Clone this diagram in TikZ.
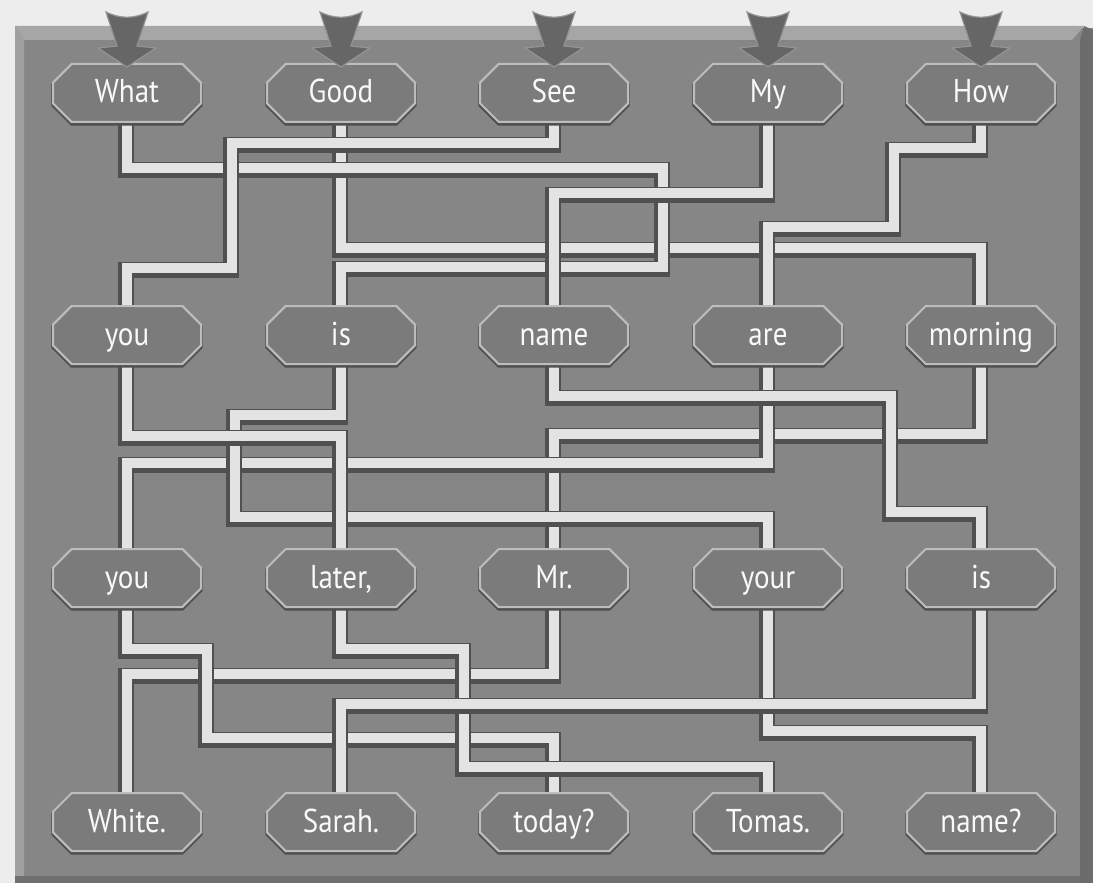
\documentclass[tikz,border=0pt]{standalone}
\usepackage{fontspec}
\setmainfont[FakeStretch=0.88]{PT Sans}
\usepackage{xcolor}
\usepackage{tikz}
\usetikzlibrary{shapes.misc}

\definecolor{paper}{HTML}{EDEDED}
\definecolor{panelgray}{HTML}{868686}
\definecolor{paneltop}{HTML}{A6A6A6}
\definecolor{panelside}{HTML}{6C6C6C}
\definecolor{boxgray}{HTML}{7B7B7B}
\definecolor{edgegray}{HTML}{BDBDBD}
\definecolor{wirelight}{HTML}{E3E3E3}
\definecolor{wiredark}{HTML}{505050}
\definecolor{arrowgray}{HTML}{666666}

\pgfdeclarelayer{board}
\pgfdeclarelayer{wires}
\pgfsetlayers{board,wires,main}

\begin{document}
\begin{tikzpicture}[x=0.5pt, y=-0.5pt,
  every node/.style={font=\fontsize{16.5}{19}\selectfont, text=white!95!gray},
  word/.style={chamfered rectangle, chamfered rectangle xsep=6pt,
    minimum width=74pt, minimum height=29pt, inner sep=0pt,
    text height=11.5pt, text depth=1.5pt,
    fill=boxgray, draw=edgegray, line width=1pt,
    preaction={draw=wiredark, line width=1.6pt, transform canvas={shift={(0pt,-1pt)}}}},
  wire/.style={line width=5pt, draw=wirelight, line join=miter,
    preaction={draw=wiredark, line width=8pt, transform canvas={shift={(-0.6pt,-0.8pt)}}}}]
\useasboundingbox (0,0) rectangle (1093,883);
% Paper and board
\begin{pgfonlayer}{board}
\fill[paper] (0,0) rectangle (1093,883);
\fill[panelgray] (15,28) rectangle (1093,883);
\fill[paneltop] (15,26) -- (1084,26) -- (1072,40) -- (24,40) -- cycle;
\fill[paneltop!80!panelgray] (15,26) -- (24,40) -- (24,876) -- (15,883) -- cycle;
\fill[panelside] (1084,26) -- (1093,30) -- (1093,883) -- (1080,883) -- (1080,40) -- cycle;
\fill[panelside!85!panelgray] (15,876) rectangle (1080,883);
\end{pgfonlayer}

% Words, row by row
\node[word] (what)    at (127,93)  {What};
\node[word] (good)    at (341,93)  {Good};
\node[word] (see)     at (554,93)  {See};
\node[word] (my)      at (768,93)  {My};
\node[word] (how)     at (981,93)  {How};
\node[word] (you1)    at (127,335) {you};
\node[word] (is1)     at (341,335) {is};
\node[word] (name)    at (554,335) {name};
\node[word] (are)     at (768,335) {are};
\node[word] (morning) at (981,335) {morning};
\node[word] (you2)    at (127,578) {you};
\node[word] (later)   at (341,578) {later,};
\node[word] (mr)      at (554,578) {Mr.};
\node[word] (your)    at (768,578) {your};
\node[word] (is2)     at (981,578) {is};
\node[word] (white)   at (127,822) {White.};
\node[word] (sarah)   at (341,822) {Sarah.};
\node[word] (today)   at (554,822) {today?};
\node[word] (tomas)   at (768,822) {Tomas.};
\node[word] (nameq)   at (981,822) {name?};

\begin{pgfonlayer}{wires}
% Wires, first row to second
\draw[wire] (good.south) -- ++(0,125) -| (morning.north);
\draw[wire] (what.south) -- ++(0,45) -| (663,267) -| (is1.north);
\draw[wire] (see.south) -- ++(0,20) -| (232,268) -| (you1.north);
\draw[wire] (my.south) -- ++(0,70) -| (name.north);
\draw[wire] (how.south) -- ++(0,25) -| (894,227) -| (are.north);
% second row to third
\draw[wire] (morning.south) -- ++(0,69) -| (mr.north);
\draw[wire] (are.south) -- ++(0,98) -| (you2.north);
\draw[wire] (is1.south) -- ++(0,50) -| (235,517) -| (your.north);
\draw[wire] (you1.south) -- ++(0,71) -| (later.north);
\draw[wire] (name.south) -- ++(0,31) -| (891,512) -| (is2.north);
% third row to fourth
\draw[wire] (mr.south) -- ++(0,66) -| (white.north);
\draw[wire] (you2.south) -- ++(0,41) -| (207,738) -| (today.north);
\draw[wire] (later.south) -- ++(0,41) -| (464,767) -| (tomas.north);
\draw[wire] (your.south) -- ++(0,123) -| (nameq.north);
\draw[wire] (is2.south) -- ++(0,96) -| (sarah.north);
\end{pgfonlayer}

% Start arrows
\foreach \cx in {127,341,554,768,981} {
  \fill[arrowgray, draw=arrowgray!70!white, line width=0.6pt]
    (\cx-21,12) .. controls (\cx-7,19) and (\cx+7,19) .. (\cx+21,12)
    -- (\cx+10,46) -- (\cx+29,48) -- (\cx,67) -- (\cx-29,48) -- (\cx-10,46) -- cycle;
}
\end{tikzpicture}
\end{document}
